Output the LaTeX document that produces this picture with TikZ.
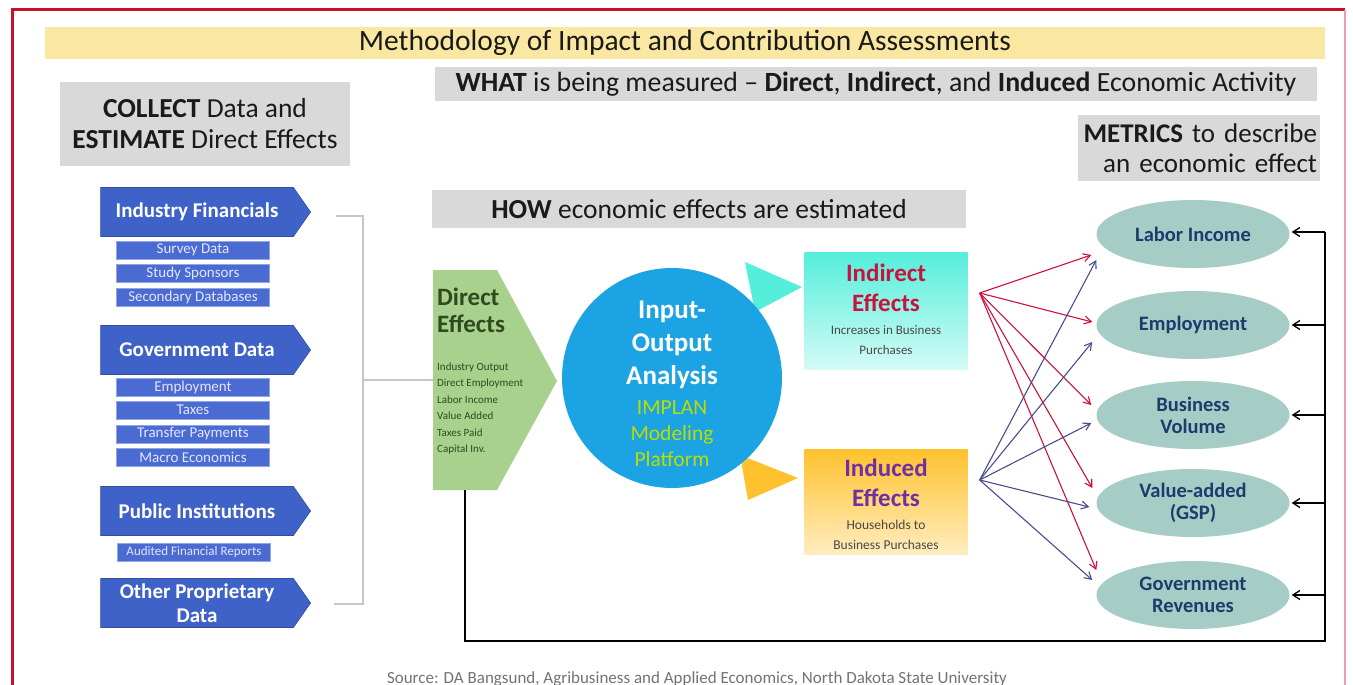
\documentclass[tikz,border=0pt]{standalone}
\usepackage{fontspec}
\setmainfont{Carlito}
\usetikzlibrary{shapes.symbols,shapes.geometric,arrows.meta,calc}
\definecolor{frameR}{HTML}{C8102E}
\definecolor{titleY}{HTML}{FAE8A2}
\definecolor{boxG}{HTML}{D9D9D9}
\definecolor{blueA}{HTML}{3F62C9}
\definecolor{blueS}{HTML}{4A6BD2}
\definecolor{deG}{HTML}{A9D18E}
\definecolor{deT}{HTML}{2E4A1E}
\definecolor{circB}{HTML}{1CA3E3}
\definecolor{implanY}{HTML}{BBDD00}
\definecolor{indC}{HTML}{55EEDB}
\definecolor{indT}{HTML}{C8143C}
\definecolor{indY}{HTML}{FFC22E}
\definecolor{indP}{HTML}{7030A0}
\definecolor{ellC}{HTML}{A6CCC6}
\definecolor{ellT}{HTML}{1F3A6B}
\definecolor{arR}{HTML}{D0103A}
\definecolor{arB}{HTML}{4B4B8F}
\definecolor{txD}{HTML}{1A1A1A}
\tikzset{
  graybox/.style={fill=boxG, inner sep=0pt, draw=none},
  bluearrow/.style={signal, signal to=east, signal pointer angle=110, fill=blueA, draw=blueA!80!black, line width=0.6,
    minimum width=210, minimum height=49, inner sep=0pt, text=white, font=\fontsize{21}{25}\selectfont\bfseries, align=center},
  subbox/.style={rectangle, fill=blueS, draw=blueS!60!white, line width=0.8, minimum width=153, minimum height=18, inner sep=0pt,
    text=white!90!blue, font=\fontsize{15}{16}\selectfont},
  metric/.style={ellipse, fill=ellC, minimum width=193, minimum height=68, inner sep=0pt, text=ellT,
    font=\fontsize{20.5}{22}\selectfont\bfseries, align=center},
  redarr/.style={draw=arR, line width=1.1, -{Straight Barb[length=7pt,width=8pt]}},
  bluearr/.style={draw=arB, line width=1.1, -{Straight Barb[length=7pt,width=8pt]}},
  fbarr/.style={draw=black, line width=1.3, -{Straight Barb[length=7pt,width=9pt]}},
  smalltxt/.style={font=\fontsize{11}{12}\selectfont, inner sep=0pt}
}
\begin{document}
\begin{tikzpicture}[x=1pt,y=-1pt]
\useasboundingbox (0,0) rectangle (1353,685);
\fill[white] (0,0) rectangle (1353,685);
% frame
\draw[frameR, line width=3] (12,690) -- (12,10) -- (1345,10);
\draw[frameR!40, line width=1.5] (1345,10) -- (1345,690);
% title band
\node[fill=titleY, minimum width=1280, minimum height=32, inner sep=0pt, font=\fontsize{29.5}{32}\selectfont, text=txD] (title) at (685,43) {Methodology of Impact and Contribution Assessments};
% gray headers
\node[graybox, minimum width=882, minimum height=34, font=\fontsize{27.8}{30}\selectfont, text=txD] (what) at (876,84)
  {\textbf{WHAT} is being measured -- \textbf{Direct}, \textbf{Indirect}, and \textbf{Induced} Economic Activity};
\node[graybox, minimum width=290, minimum height=84, font=\fontsize{27.5}{31}\selectfont, text=txD, align=center] (collect) at (205,124)
  {\textbf{COLLECT} Data and\\\textbf{ESTIMATE} Direct Effects};
\node[graybox, minimum width=242, minimum height=66, font=\fontsize{27}{30}\selectfont, text=txD, align=right, text width=236] (metrics) at (1199,148)
  {\textbf{METRICS} to describe\\an economic effect};
\node[graybox, minimum width=534, minimum height=38, font=\fontsize{27.5}{30}\selectfont, text=txD] (how) at (699,209)
  {\textbf{HOW} economic effects are estimated};
% left data sources
\node[bluearrow] (ifin) at (197,212) {Industry Financials};
\node[subbox] (s1) at (193,250) {Survey Data};
\node[subbox] (s2) at (193,273) {Study Sponsors};
\node[subbox] (s3) at (193,297) {Secondary Databases};
\node[bluearrow] (gov) at (197,350) {Government Data};
\node[subbox] (g1) at (193,387) {Employment};
\node[subbox] (g2) at (193,410) {Taxes};
\node[subbox] (g3) at (193,434) {Transfer Payments};
\node[subbox] (g4) at (193,457) {Macro Economics};
\node[bluearrow] (pub) at (197,511) {Public Institutions};
\node[subbox, font=\fontsize{13}{14}\selectfont] (p1) at (194,552) {Audited Financial Reports};
\node[bluearrow, font=\fontsize{21}{24}\selectfont\bfseries] (oth) at (197,603) {Other Proprietary\\Data};
% direct effects (chevron shape)
\fill[deG] (433,270) -- (497,270) -- (557,381) -- (497,490) -- (433,490) -- cycle;
\coordinate (dew) at (433,380);
\node[anchor=west, inner sep=0pt, text=deT, font=\fontsize{25}{28}\selectfont\bfseries] (det1) at (437,297) {Direct};
\node[anchor=west, inner sep=0pt, text=deT, font=\fontsize{25}{28}\selectfont\bfseries] (det2) at (437,324) {Effects};
\node[smalltxt, anchor=west, text=deT] (d1) at (437,368) {Industry Output};
\node[smalltxt, anchor=west, text=deT] (d2) at (437,384) {Direct Employment};
\node[smalltxt, anchor=west, text=deT] (d3) at (437,400) {Labor Income};
\node[smalltxt, anchor=west, text=deT] (d4) at (437,416) {Value Added};
\node[smalltxt, anchor=west, text=deT] (d5) at (437,433) {Taxes Paid};
\node[smalltxt, anchor=west, text=deT] (d6) at (437,450) {Capital Inv.};
% bracket
\coordinate (bt) at (336,216);
\coordinate (bb) at (334,604);
\draw[gray!45, line width=2] (bt) -- (363,216) -- (363,604) -- (bb);
\draw[gray!45, line width=2] (363,380) -- (dew);
% small arrow wedges behind the circle
\fill[indC] (745,262) -- (802,287) -- (755,312) -- cycle;
\fill[indY] (740,455) -- (798,478) -- (748,500) -- cycle;
% circle
\node[circle, fill=circB, minimum size=220, inner sep=0pt] (io) at (672,378) {};
\node[text=white, font=\fontsize{27}{33}\selectfont\bfseries, align=center, inner sep=0pt] (iot) at (672,345) {Input-\\Output\\Analysis};
\node[text=implanY, font=\fontsize{21.5}{26}\selectfont, align=center, inner sep=0pt] (iop) at (672,434) {IMPLAN\\Modeling\\Platform};
% indirect / induced
\node[rectangle, top color=indC, bottom color=indC!25, minimum width=163, minimum height=117, inner sep=0pt] (indir) at (886,311) {};
\node[text=indT, font=\fontsize{25}{30}\selectfont\bfseries, align=center, inner sep=0pt] (indirt) at (886,288) {Indirect\\Effects};
\node[smalltxt, text=txD!80, align=center, font=\fontsize{13}{20}\selectfont] (indirs) at (886,340) {Increases in Business\\Purchases};
\node[rectangle, top color=indY, bottom color=indY!30, minimum width=163, minimum height=105, inner sep=0pt] (indu) at (886,502) {};
\node[text=indP, font=\fontsize{25}{30}\selectfont\bfseries, align=center, inner sep=0pt] (indut) at (886,483) {Induced\\Effects};
\node[smalltxt, text=txD!80, align=center, font=\fontsize{13.5}{20}\selectfont] (indus) at (886,535) {Households to\\Business Purchases};
% metrics
\node[metric] (li) at (1193,234) {Labor Income};
\node[metric] (em) at (1193,325) {Employment};
\node[metric] (bv) at (1193,415) {Business\\Volume};
\node[metric] (va) at (1193,503) {Value-added\\(GSP)};
\node[metric] (gr) at (1193,595) {Government\\Revenues};
% arrows from indirect / induced
\coordinate (rs) at ($(indir.east)+(12,-18)$);
\coordinate (bs) at ($(indu.east)+(12,-22)$);
\draw[redarr] (rs) -- ($(li.west)+(-5,21)$);
\draw[redarr] (rs) -- ($(em.west)+(-4,-3)$);
\draw[redarr] (rs) -- ($(bv.west)+(-5,-10)$);
\draw[redarr] (rs) -- ($(va.west)+(-4,-15)$);
\draw[redarr] (rs) -- ($(gr.west)+(0,-25)$);
\draw[bluearr] (bs) -- ($(li.west)+(0,26)$);
\draw[bluearr] (bs) -- ($(em.west)+(-4,17)$);
\draw[bluearr] (bs) -- ($(bv.west)+(-5,8)$);
\draw[bluearr] (bs) -- ($(va.west)+(-7,4)$);
\draw[bluearr] (bs) -- ($(gr.west)+(-4,-15)$);
% feedback loop
\coordinate (fb1) at (465,490);
\coordinate (fb2) at (465,641);
\coordinate (fb3) at (1325,641);
\coordinate (fb4) at (1325,232);
\draw[black, line width=1.3] (fb1) -- (fb2) -- (fb3) -- (fb4);
\draw[fbarr] (1325,232) -- ($(li.east)+(2,-2)$);
\draw[fbarr] (1325,325) -- ($(em.east)+(2,0)$);
\draw[fbarr] (1325,415) -- ($(bv.east)+(2,0)$);
\draw[fbarr] (1325,503) -- ($(va.east)+(2,0)$);
\draw[fbarr] (1325,595) -- ($(gr.east)+(2,0)$);
% source
\node[text=gray!90!black, font=\fontsize{17}{18}\selectfont, inner sep=0pt] (src) at (697,679) {Source: DA Bangsund, Agribusiness and Applied Economics, North Dakota State University};
\end{tikzpicture}
\end{document}
